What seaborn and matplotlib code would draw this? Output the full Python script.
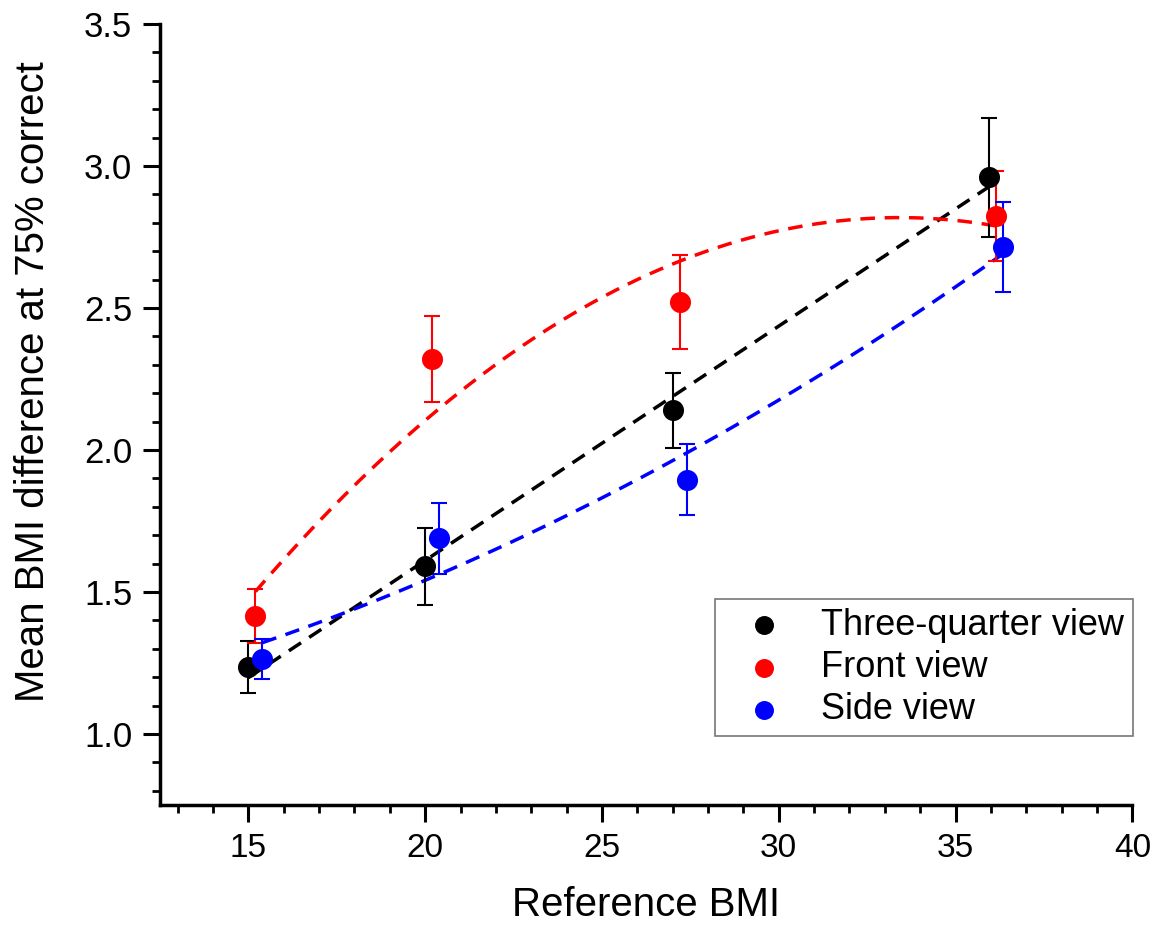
import numpy as np
import pandas as pd
import matplotlib
matplotlib.use("Agg")
import matplotlib.pyplot as plt
import seaborn as sns
from matplotlib.ticker import MultipleLocator, FormatStrFormatter

# values
views = ['Three-quarter view', 'Front view', 'Side view']
colors = ['black', 'red', 'blue']

x_three = [15.0, 20.0, 27.0, 35.95]
y_three = [1.235, 1.59, 2.14, 2.96]
e_three = [0.092, 0.135, 0.132, 0.21]

x_front = [15.2, 20.2, 27.2, 36.15]
y_front = [1.415, 2.32, 2.52, 2.825]
e_front = [0.095, 0.152, 0.165, 0.158]

x_side = [15.4, 20.4, 27.4, 36.35]
y_side = [1.265, 1.69, 1.895, 2.715]
e_side = [0.07, 0.125, 0.125, 0.158]

fit_degree = [1, 2, 2]

sns.set_style("ticks", rc={'text.color': 'black', 'axes.labelcolor': 'black',
                           'xtick.color': 'black', 'ytick.color': 'black',
                           'axes.edgecolor': 'black'})
plt.rcParams['font.family'] = ['Liberation Sans', 'DejaVu Sans']

fig = plt.figure(figsize=(11.59, 9.31), dpi=100)
ax = fig.add_axes([0.138, 0.1353, 0.839, 0.839])

series = [(x_three, y_three, e_three), (x_front, y_front, e_front), (x_side, y_side, e_side)]

for (xs, ys, es), name, col, deg in zip(series, views, colors, fit_degree):
    # fitted trend line
    coef = np.polyfit(xs, ys, deg)
    xf = np.linspace(min(xs), max(xs), 200)
    fit = pd.DataFrame({'x': xf, 'y': np.polyval(coef, xf)})
    sns.lineplot(data=fit, x='x', y='y', ax=ax, color=col, lw=2.5,
                 linestyle=(0, (4.2, 2.8)), legend=False, zorder=2)
    ax.errorbar(xs, ys, yerr=es, fmt='none', ecolor=col, elinewidth=1.5,
                capsize=6, capthick=1.5, zorder=3)
    df = pd.DataFrame({'x': xs, 'y': ys})
    sns.scatterplot(data=df, x='x', y='y', ax=ax, color=col, s=230,
                    edgecolor=col, linewidth=0, label=name, zorder=4)

ax.set_xlim(12.5, 40)
ax.set_ylim(0.75, 3.5)
ax.xaxis.set_major_locator(MultipleLocator(5))
ax.xaxis.set_minor_locator(MultipleLocator(1))
ax.yaxis.set_major_locator(MultipleLocator(0.5))
ax.yaxis.set_minor_locator(MultipleLocator(0.1))
ax.yaxis.set_major_formatter(FormatStrFormatter('%.1f'))

sns.despine(ax=ax)
for s in ['left', 'bottom']:
    ax.spines[s].set_linewidth(2.5)
ax.tick_params(which='major', direction='out', length=12, width=2.2,
               labelsize=25, pad=8)
ax.tick_params(which='minor', direction='out', length=6, width=2)
ax.tick_params(axis='x', which='major', labelsize=24)

ax.set_xlabel('Reference BMI', fontsize=29)
ax.set_ylabel('Mean BMI difference at 75% correct', fontsize=29)
ax.xaxis.set_label_coords(0.5, -0.104)
ax.yaxis.set_label_coords(-0.111, 0.542)

leg = ax.legend(loc='lower right', bbox_to_anchor=(1.001, 0.088), borderaxespad=0,
                fontsize=26, frameon=True, fancybox=False, edgecolor='#555555',
                handletextpad=0.5, borderpad=0.25, labelspacing=0.2,
                markerscale=0.9, handlelength=2.2)
leg.get_frame().set_linewidth(1.2)

fig.savefig('out.png', dpi=100)
